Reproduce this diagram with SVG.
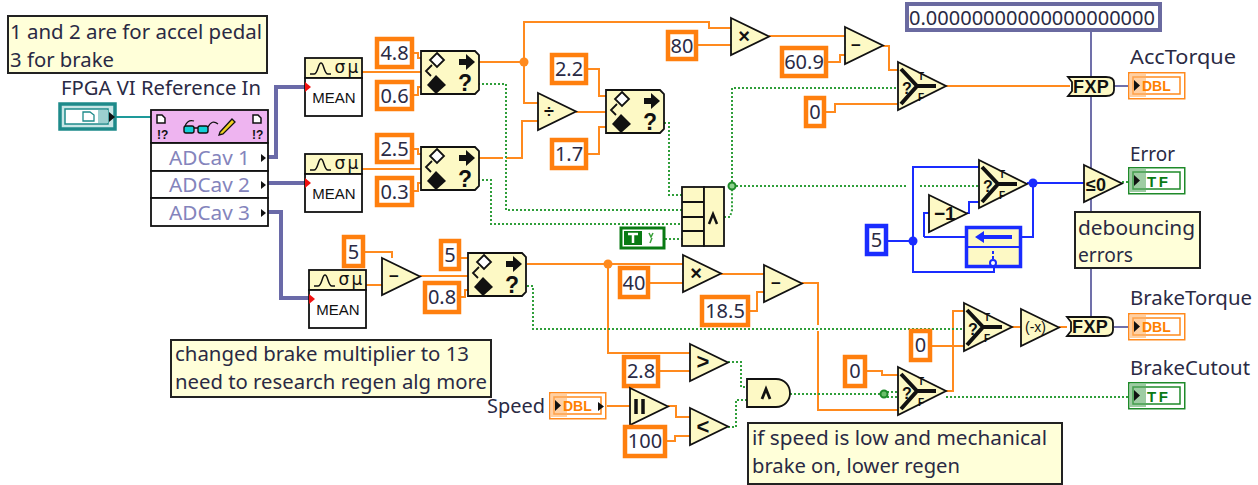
<svg xmlns="http://www.w3.org/2000/svg" xmlns:xlink="http://www.w3.org/1999/xlink" width="1258" height="485" viewBox="0 0 1258 485">
<style>
text{font-family:"Noto Sans","Open Sans","Liberation Sans",sans-serif;font-size:19px;fill:#2a2a44}
.b{font-family:"Liberation Sans",Arial,sans-serif;font-weight:700;fill:#111}
.c{fill:#ffffd9;stroke:#222;stroke-width:2}
.k{fill:#fff;stroke:#ff7f0e;stroke-width:4.5}
.kb{fill:#fff;stroke:#1a2cff;stroke-width:4.5}
.v{font-size:20px;text-anchor:middle}
.n{fill:#fdf9c5;stroke:#111;stroke-width:1.8}
.m{text-anchor:middle}
.ad{fill:#8484bc}
.w{fill:none;stroke-linejoin:miter}
.o{stroke:#ff8a1e;stroke-width:2}
.g{stroke:#2f9e3a;stroke-width:2;stroke-dasharray:2 2}
.bl{stroke:#1a2cff;stroke-width:2}
.p{stroke:#7070aa;stroke-width:2}
.pt{stroke:#6a6aa8;stroke-width:4}
.t{stroke:#1e9a9a;stroke-width:2}
.y{fill:none;stroke:#111;stroke-width:4}
</style>
<defs>
<polygon id="tri" class="n" points="0,0 38,18.5 0,37"/>
<g id="range">
<path class="n" d="M0,0H54L58,4V39L54,43H0Z"/>
<path d="M16,2L23,9L16,16L9,9Z" fill="#fff" stroke="#111" stroke-width="1.8"/>
<path d="M11,14L5,20L10,25" fill="none" stroke="#111" stroke-width="1.8"/>
<path d="M15,24L25,34L15,43L6,34Z" fill="#111"/>
<path d="M38,8H45V3L54,11L45,19V14H38Z" fill="#111"/>
<text class="b m" x="44" y="40" style="font-size:23px">?</text>
</g>
<g id="sel">
<polygon class="n" points="0,0 48,24 0,48"/>
<path class="y" d="M3,7L19,24L3,42M19,24H38"/>
<text class="b" x="4" y="32" style="font-size:16px">?</text>
<text class="b" x="20" y="18" style="font-size:10px">T</text>
<text class="b" x="20" y="39" style="font-size:10px">F</text>
</g>
<g id="mean">
<rect class="n" x="0" y="0" width="57" height="20"/>
<rect x="0" y="20" width="57" height="38" fill="#fff" stroke="#111" stroke-width="1.8"/>
<path d="M5,16H9C13,16 13,5 16,5C19,5 19,16 23,16H26" fill="none" stroke="#111" stroke-width="1.5"/>
<text class="m" x="35" y="15" style="font-size:17px;fill:#111;font-family:'DejaVu Sans',sans-serif">σ</text>
<text class="m" x="48" y="15" style="font-size:17px;fill:#111;font-family:'DejaVu Sans',sans-serif">μ</text>
<text class="m" x="29" y="45" style="font-size:15px;fill:#111;font-family:'Liberation Sans',sans-serif">MEAN</text>
<path d="M0,24L6,29L0,34Z" fill="#f01010"/>
</g>
<g id="fxp">
<path class="n" d="M0,0H38Q46,0 46,6V13Q46,19 38,19H0L4,14V5Z"/>
<text class="b" x="5" y="16" style="font-size:18px;letter-spacing:.4px">FXP</text>
</g>
<g id="dbl">
<rect x=".75" y=".75" width="56" height="26" fill="#fff" stroke="#ff8a1e" stroke-width="1.5"/>
<rect x="5" y="5" width="47" height="17" fill="#fff" stroke="#ff8a1e" stroke-width="1.5"/>
<rect x="2" y="2" width="16" height="23" fill="#ffb066" opacity=".6"/>
<path d="M6,8L12,13.5L6,19Z" fill="#111"/>
<text class="b" x="14" y="19" style="font-size:14px;fill:#ff8000">DBL</text>
</g>
<g id="tf">
<rect x=".75" y=".75" width="56" height="26" fill="#fff" stroke="#1f8a2a" stroke-width="1.5"/>
<rect x="5" y="5" width="47" height="17" fill="#fff" stroke="#1f8a2a" stroke-width="1.5"/>
<rect x="2" y="2" width="16" height="23" fill="#5eaa66" opacity=".6"/>
<path d="M6,8L12,13.5L6,19Z" fill="#111"/>
<text class="b" x="19" y="20" style="font-size:15px;fill:#0a7a14;letter-spacing:2.5px">TF</text>
</g>
</defs>

<g id="connectors">
<path class="w t" d="M116,117H151"/>
<path class="w pt" d="M268,157H276V87H305M268,183H305M268,212H281V298H309"/>
<path class="w o" d="M362,72H421M414,53H418V58H421M414,95H418V87H421M362,169H421M414,149H418V154H421M414,191H418V183H421"/>
<path class="w o" d="M478,62H524M524,62V22H709V28H731M524,62V103H538M478,158H503M506,158H522V121H538M576,112H606M588,69H599V96H606M588,154H599V127H606M698,45H731M769,36H845M828,62H840V55H845M883,46H889V70H898M946,86H1070M826,112H835V104H898"/>
<path class="w g" d="M732,186V88H898M732,186H908M920,186H979M724,217H730L732,210V186M664,123H669V195H682M478,84H506V210H682M478,180H491V224H682M665,239H682"/>
<path class="w p" d="M1091,32V320M1114,86H1128M1114,327H1128"/>
<path class="w g" d="M1122,182H1128"/>
<path class="w bl" d="M1027,183H1084M1033,183V237H1022M888,241H913M913,241V167H979M913,241V272H994V266M924,237V213H929M924,237H965M967,213H969V202H979"/>
<path class="w o" d="M1059,327H1067M1012,327H1021M932,346H964M946,391H953V311H964M867,371H882V375H898M802,283H818V325M818,331V410H898M721,274H764M750,311H757V292H764M650,283H683M527,264H683M608,264V353H690M660,371H690M668,406H676V417H690M667,441H675V436H690M607,406H630"/>
<path class="w o" d="M365,252H392V258M366,285H382M420,276H468M461,258H468M461,297H465V290H468"/>
<path class="w g" d="M527,286H533V329H964M728,362H741V387H747M728,427H736V400H747M790,394H883M883,392H898M883,397H898M946,397H1128"/>
<circle cx="524" cy="62" r="4.5" fill="#ff8a1e"/>
<circle cx="608" cy="264" r="4.5" fill="#ff8a1e"/>
<circle cx="732" cy="186" r="3.5" fill="#8fd08f" stroke="#1f8a2a" stroke-width="2"/>
<circle cx="884" cy="394" r="3.5" fill="#6bbf6b" stroke="#1f8a2a" stroke-width="2"/>
<circle cx="913" cy="241" r="4.5" fill="#1a2cff"/>
<circle cx="1033" cy="183" r="4.5" fill="#1a2cff"/>
</g>

<g id="comment-pedal"><rect class="c" x="8" y="16" width="259" height="57"/><text x="10" y="39" textLength="252" lengthAdjust="spacingAndGlyphs">1 and 2 are for accel pedal</text><text x="10" y="67" textLength="104" lengthAdjust="spacingAndGlyphs">3 for brake</text></g>
<g id="fpga-ref"><text x="61" y="95" textLength="200" lengthAdjust="spacingAndGlyphs">FPGA VI Reference In</text>
<rect x="60" y="104" width="55" height="25" fill="#c8e6e6" stroke="#1e8a8a" stroke-width="3.500"/><rect x="65" y="109" width="43" height="15" fill="#fff" stroke="#1e8a8a" stroke-width="1.5"/><rect x="98" y="110" width="10" height="13" fill="#9cd0d0"/><path d="M83,112H90L94,115V121H83Z" fill="#fff" stroke="#1e8a8a" stroke-width="1.3"/><path d="M109,112L115,117L109,122Z" fill="#111"/></g>
<g id="read-node">
<rect x="151" y="110" width="117" height="33" fill="#eeb4f0" stroke="#111" stroke-width="1.8"/>
<path d="M157,115H162L165,118V123H157ZM253,115H258L261,118V123H253Z" fill="#fff" stroke="#111" stroke-width="1.5"/>
<text class="b" x="157" y="139" style="font-size:12px">!?</text><text class="b" x="252" y="139" style="font-size:12px">!?</text>
<rect x="184" y="126" width="10" height="7" rx="2" fill="#12d0d8" stroke="#111" stroke-width="1.4"/><rect x="198" y="126" width="10" height="7" rx="2" fill="#12d0d8" stroke="#111" stroke-width="1.4"/>
<path d="M194,128H198M185,126Q188,119 194,121M208,127Q212,119 218,124" fill="none" stroke="#111" stroke-width="1.3"/>
<path d="M220,132L232,119L235,122L223,134L219,135Z" fill="#f0d020" stroke="#111" stroke-width="1.3"/>
<rect x="151" y="143" width="117" height="28" fill="#fff" stroke="#111" stroke-width="1.8"/>
<rect x="151" y="171" width="117" height="27" fill="#fff" stroke="#111" stroke-width="1.8"/>
<rect x="151" y="198" width="117" height="28" fill="#fff" stroke="#111" stroke-width="1.8"/>
<text class="ad" x="169" y="165" textLength="81" lengthAdjust="spacingAndGlyphs">ADCav 1</text>
<text class="ad" x="169" y="192" textLength="81" lengthAdjust="spacingAndGlyphs">ADCav 2</text>
<text class="ad" x="169" y="220" textLength="81" lengthAdjust="spacingAndGlyphs">ADCav 3</text>
<path d="M261,154L266,158L261,162ZM261,181L266,185L261,189ZM261,209L266,213L261,217Z" fill="#111"/>
</g>
<g id="mean-1"><use href="#mean" x="305" y="58"/></g>
<g id="mean-2"><use href="#mean" x="305" y="154"/></g>
<g id="mean-3"><use href="#mean" x="309" y="270"/></g>

<g id="const-4-8"><rect class="k" x="377" y="39" width="35" height="28"/><text class="v" x="394.500" y="60">4.8</text></g>
<g id="const-0-6"><rect class="k" x="377" y="82" width="35" height="27"/><text class="v" x="394.500" y="103">0.6</text></g>
<g id="const-2-5"><rect class="k" x="377" y="135" width="35" height="27"/><text class="v" x="394.500" y="156">2.5</text></g>
<g id="const-0-3"><rect class="k" x="377" y="178" width="35" height="27"/><text class="v" x="394.500" y="199">0.3</text></g>
<g id="range-1"><use href="#range" x="421" y="51"/></g>
<g id="range-2"><use href="#range" x="421" y="147"/></g>
<g id="range-3"><use href="#range" x="606" y="90"/></g>
<g id="range-4"><use href="#range" x="468" y="253"/></g>
<g id="divide"><use href="#tri" x="538" y="93"/><text class="b m" x="549" y="118" style="font-size:18px">÷</text></g>
<g id="const-2-2"><rect class="k" x="552" y="55" width="34" height="28"/><text class="v" x="569" y="76">2.2</text></g>
<g id="const-1-7"><rect class="k" x="552" y="140" width="34" height="28"/><text class="v" x="569" y="161">1.7</text></g>
<g id="const-80"><rect class="k" x="668" y="32" width="28" height="27"/><text class="v" x="682" y="53">80</text></g>
<g id="mult-1"><use href="#tri" x="731" y="18"/><text class="b m" x="744" y="43" style="font-size:20px">×</text></g>
<g id="const-60-9"><rect class="k" x="782" y="48" width="44" height="28"/><text class="v" x="804" y="69">60.9</text></g>
<g id="sub-1"><use href="#tri" x="845" y="27"/><text class="b m" x="856" y="51" style="font-size:17px">−</text></g>
<g id="select-1"><use href="#sel" x="898" y="62"/></g>
<g id="const-0-a"><rect class="k" x="806" y="98" width="18" height="28"/><text class="v" x="815" y="119">0</text></g>
<g id="and-array"><rect class="n" x="682" y="187" width="22" height="59"/><rect class="n" x="704" y="187" width="20" height="59"/><path d="M682,202H704M682,217H704M682,231H704" stroke="#111" stroke-width="1.8"/><path d="M709,224L713,214L717,224" fill="none" stroke="#111" stroke-width="2.500"/></g>
<g id="const-true"><rect x="621" y="228" width="43" height="20" fill="#fff" stroke="#0a7a14" stroke-width="3"/><rect x="624" y="231" width="18" height="14" fill="#0a7a14"/><path d="M628,234H638M633,234V243" stroke="#fff" stroke-width="2.500"/><path d="M649,233L651,237L653,233M652,238L650,243" fill="none" stroke="#3aa03a" stroke-width="1.5"/></g>
<g id="const-0000"><rect x="907" y="4" width="253" height="26" fill="#fff" stroke="#6a6aa0" stroke-width="4"/><text x="909" y="25" textLength="246" lengthAdjust="spacingAndGlyphs">0.00000000000000000000</text></g>
<g id="fxp-1"><use href="#fxp" x="1068" y="77"/></g>
<g id="acc-torque"><text x="1130" y="64" textLength="106" lengthAdjust="spacingAndGlyphs">AccTorque</text><use href="#dbl" x="1128" y="72"/></g>
<g id="less-zero"><use href="#tri" x="1084" y="165"/><text class="b" x="1086" y="191" style="font-size:18px">≤0</text></g>
<g id="error"><text x="1130" y="161" textLength="45" lengthAdjust="spacingAndGlyphs">Error</text><use href="#tf" x="1128" y="167"/></g>
<g id="select-2"><use href="#sel" x="979" y="160"/></g>
<g id="dec"><use href="#tri" x="929" y="195"/><text class="b" x="934" y="220" style="font-size:19px">−1</text></g>
<g id="feedback"><rect x="966.500" y="227.500" width="54" height="39" fill="#fdf9c5" stroke="#1a2cff" stroke-width="3.500"/><path d="M966,247H1021" stroke="#1a2cff" stroke-width="2"/><path d="M975,237L984,231V235H1012V239H984V243Z" fill="#1a2cff"/><path d="M993,251V254M993,256V259" stroke="#1a2cff" stroke-width="2"/><circle cx="993" cy="263" r="3" fill="#fff" stroke="#1a2cff" stroke-width="2"/></g>
<g id="const-5-blue"><rect class="kb" x="867" y="226" width="19" height="28"/><text class="v" x="876.500" y="247">5</text></g>
<g id="comment-debounce"><rect class="c" x="1075" y="212" width="125" height="56"/><text x="1078" y="235" textLength="117" lengthAdjust="spacingAndGlyphs">debouncing</text><text x="1078" y="262" textLength="55" lengthAdjust="spacingAndGlyphs">errors</text></g>
<g id="const-5-a"><rect class="k" x="344" y="237" width="19" height="29"/><text class="v" x="353.500" y="259">5</text></g>
<g id="sub-2"><use href="#tri" x="382" y="258"/><text class="b m" x="394" y="282" style="font-size:17px">−</text></g>
<g id="const-5-b"><rect class="k" x="441" y="241" width="18" height="28"/><text class="v" x="450" y="262">5</text></g>
<g id="const-0-8"><rect class="k" x="425" y="283" width="34" height="29"/><text class="v" x="442" y="304">0.8</text></g>
<g id="const-40"><rect class="k" x="620" y="268" width="28" height="29"/><text class="v" x="634" y="290">40</text></g>
<g id="mult-2"><use href="#tri" x="683" y="255"/><text class="b m" x="696" y="280" style="font-size:20px">×</text></g>
<g id="sub-3"><use href="#tri" x="764" y="265"/><text class="b m" x="776" y="289" style="font-size:17px">−</text></g>
<g id="const-18-5"><rect class="k" x="702" y="297" width="46" height="28"/><text class="v" x="725" y="318">18.5</text></g>
<g id="const-2-8"><rect class="k" x="624" y="357" width="34" height="29"/><text class="v" x="641" y="378">2.8</text></g>
<g id="greater"><use href="#tri" x="690" y="344"/><text class="b m" x="703" y="369" style="font-size:22px">&gt;</text></g>
<g id="less"><use href="#tri" x="690" y="408"/><text class="b m" x="703" y="434" style="font-size:22px">&lt;</text></g>
<g id="minmax"><use href="#tri" x="630" y="388"/><path d="M636,399V414M643,399V414" stroke="#111" stroke-width="3.500"/></g>
<g id="const-100"><rect class="k" x="625" y="427" width="40" height="29"/><text class="v" x="645" y="448">100</text></g>
<g id="speed"><text x="487" y="413" textLength="58" lengthAdjust="spacingAndGlyphs">Speed</text><use href="#dbl" x="549" y="392"/><path d="M598,402L604,406.500L598,411Z" fill="#111"/></g>
<g id="and-gate"><path class="n" d="M747,379H776C785,379 790,386 790,393C790,400 785,407 776,407H747Z"/><path d="M762,399L766,389L770,399" fill="none" stroke="#111" stroke-width="2.800"/></g>
<g id="comment-brake"><rect class="c" x="171" y="340" width="320" height="57"/><text x="175" y="361" textLength="294" lengthAdjust="spacingAndGlyphs">changed brake multiplier to 13</text><text x="175" y="389" textLength="312" lengthAdjust="spacingAndGlyphs">need to research regen alg more</text></g>
<g id="comment-speed"><rect class="c" x="748" y="423" width="314" height="61"/><text x="752" y="445" textLength="295" lengthAdjust="spacingAndGlyphs">if speed is low and mechanical</text><text x="752" y="473" textLength="208" lengthAdjust="spacingAndGlyphs">brake on, lower regen</text></g>
<g id="const-0-b"><rect class="k" x="845" y="357" width="20" height="29"/><text class="v" x="855" y="378">0</text></g>
<g id="select-3"><use href="#sel" x="898" y="367"/></g>
<g id="select-4"><use href="#sel" x="964" y="303"/></g>
<g id="const-0-c"><rect class="k" x="911" y="331" width="19" height="29"/><text class="v" x="920.500" y="352">0</text></g>
<g id="negate"><use href="#tri" x="1021" y="309"/><text class="b" x="1025" y="332" style="font-size:14px;font-weight:400">(-x)</text></g>
<g id="fxp-2"><use href="#fxp" x="1067" y="317"/></g>
<g id="brake-torque"><text x="1130" y="305" textLength="122" lengthAdjust="spacingAndGlyphs">BrakeTorque</text><use href="#dbl" x="1128" y="313"/></g>
<g id="brake-cutout"><text x="1130" y="375" textLength="120" lengthAdjust="spacingAndGlyphs">BrakeCutout</text><use href="#tf" x="1128" y="382"/></g>
</svg>
